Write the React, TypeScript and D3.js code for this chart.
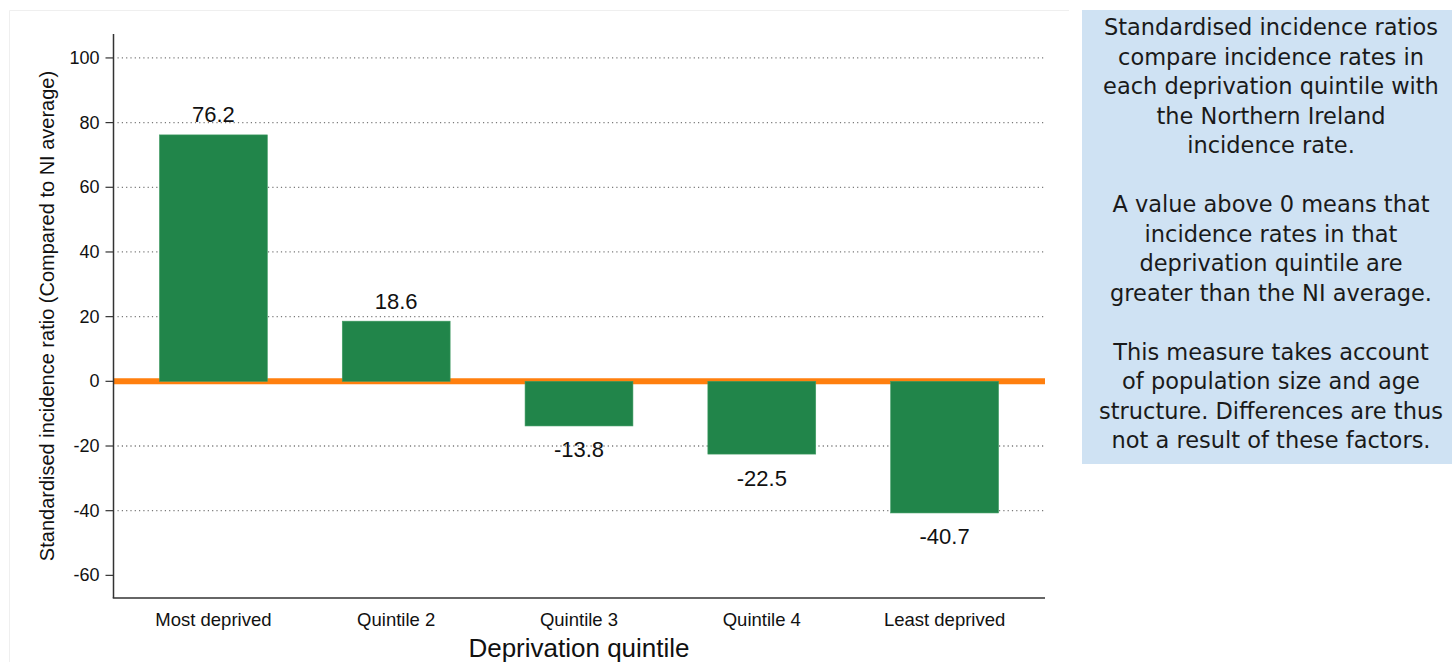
import React from "react";
import * as d3 from "d3";

const categories = ["Most deprived", "Quintile 2", "Quintile 3", "Quintile 4", "Least deprived"];
const values = [76.2, 18.6, -13.8, -22.5, -40.7];
const yTicks = [100, 80, 60, 40, 20, 0, -20, -40, -60];
const gridValues = [100, 80, 60, 40, 20, -20, -40];
const noteLines = [
  "Standardised incidence ratios",
  "compare incidence rates in",
  "each deprivation quintile with",
  "the Northern Ireland",
  "incidence rate.",
  "",
  "A value above 0 means that",
  "incidence rates in that",
  "deprivation quintile are",
  "greater than the NI average.",
  "",
  "This measure takes account",
  "of population size and age",
  "structure. Differences are thus",
  "not a result of these factors.",
];

export default function App() {
  const W = 1452, H = 662;
  const x0 = 113.5, x1 = 1045;
  const yTop = 34, yBot = 598;
  const y = d3.scaleLinear().domain([-67, 107.4]).range([yBot, yTop]);
  const x = d3.scaleBand().domain(categories).range([122, 1036]).paddingInner(0.41).paddingOuter(0.205);
  const font = "'Liberation Sans', Arial, sans-serif";
  return (
    <svg width={W} height={H} style={{ position: "absolute", left: 0, top: 0, background: "#fff" }}>
      <line x1={9.5} x2={1069} y1={10.5} y2={10.5} stroke="#efefef" />
      <line x1={9.5} x2={9.5} y1={10.5} y2={662} stroke="#efefef" />
      {gridValues.map((v) => (
        <line key={v} x1={x0 + 4} x2={x1} y1={y(v)} y2={y(v)} stroke="#7a7a7a" strokeWidth={1.3} strokeDasharray="1.2 3.1" />
      ))}
      <line x1={x0} x2={x1} y1={y(0)} y2={y(0)} stroke="#ff7f0e" strokeWidth={6} />
      {values.map((v, i) => (
        <rect key={i} x={x(categories[i])} width={x.bandwidth()} y={y(Math.max(0, v))} height={Math.abs(y(v) - y(0))} fill="#21854a" stroke="#3f9b62" strokeWidth={0.6} />
      ))}
      {values.map((v, i) => (
        <text key={i} x={(x(categories[i]) as number) + x.bandwidth() / 2} y={v >= 0 ? y(v) - 20 : y(v) + 24} textAnchor="middle" dominantBaseline="central" fontFamily={font} fontSize={22} fill="#111">
          {v.toFixed(1)}
        </text>
      ))}
      <line x1={x0} x2={x0} y1={yTop} y2={yBot} stroke="#333" strokeWidth={1.5} />
      <line x1={x0 - 0.75} x2={x1} y1={yBot} y2={yBot} stroke="#333" strokeWidth={1.5} />
      {yTicks.map((t) => (
        <g key={t}>
          <line x1={x0 - 8} x2={x0} y1={y(t)} y2={y(t)} stroke="#333" strokeWidth={1.2} />
          <text x={x0 - 14} y={y(t)} textAnchor="end" dominantBaseline="central" fontFamily={font} fontSize={18} fill="#111">{t}</text>
        </g>
      ))}
      {categories.map((c) => (
        <text key={c} x={(x(c) as number) + x.bandwidth() / 2} y={619} textAnchor="middle" dominantBaseline="central" fontFamily={font} fontSize={18.5} fill="#111">{c}</text>
      ))}
      <text x={579} y={648} textAnchor="middle" dominantBaseline="central" fontFamily={font} fontSize={26} fill="#111">Deprivation quintile</text>
      <text transform={`translate(47,${(yTop + yBot) / 2}) rotate(-90)`} textAnchor="middle" dominantBaseline="central" fontFamily={font} fontSize={20} fill="#111">Standardised incidence ratio (Compared to NI average)</text>
      <rect x={1082} y={10} width={370} height={454} fill="#cfe2f3" />
      {noteLines.map((l, i) => (
        <text key={i} x={1271} y={27 + i * 29.5} textAnchor="middle" dominantBaseline="central" fontFamily="'DejaVu Sans', sans-serif" fontSize={22.5} fill="#1a1a1a">{l}</text>
      ))}
    </svg>
  );
}
